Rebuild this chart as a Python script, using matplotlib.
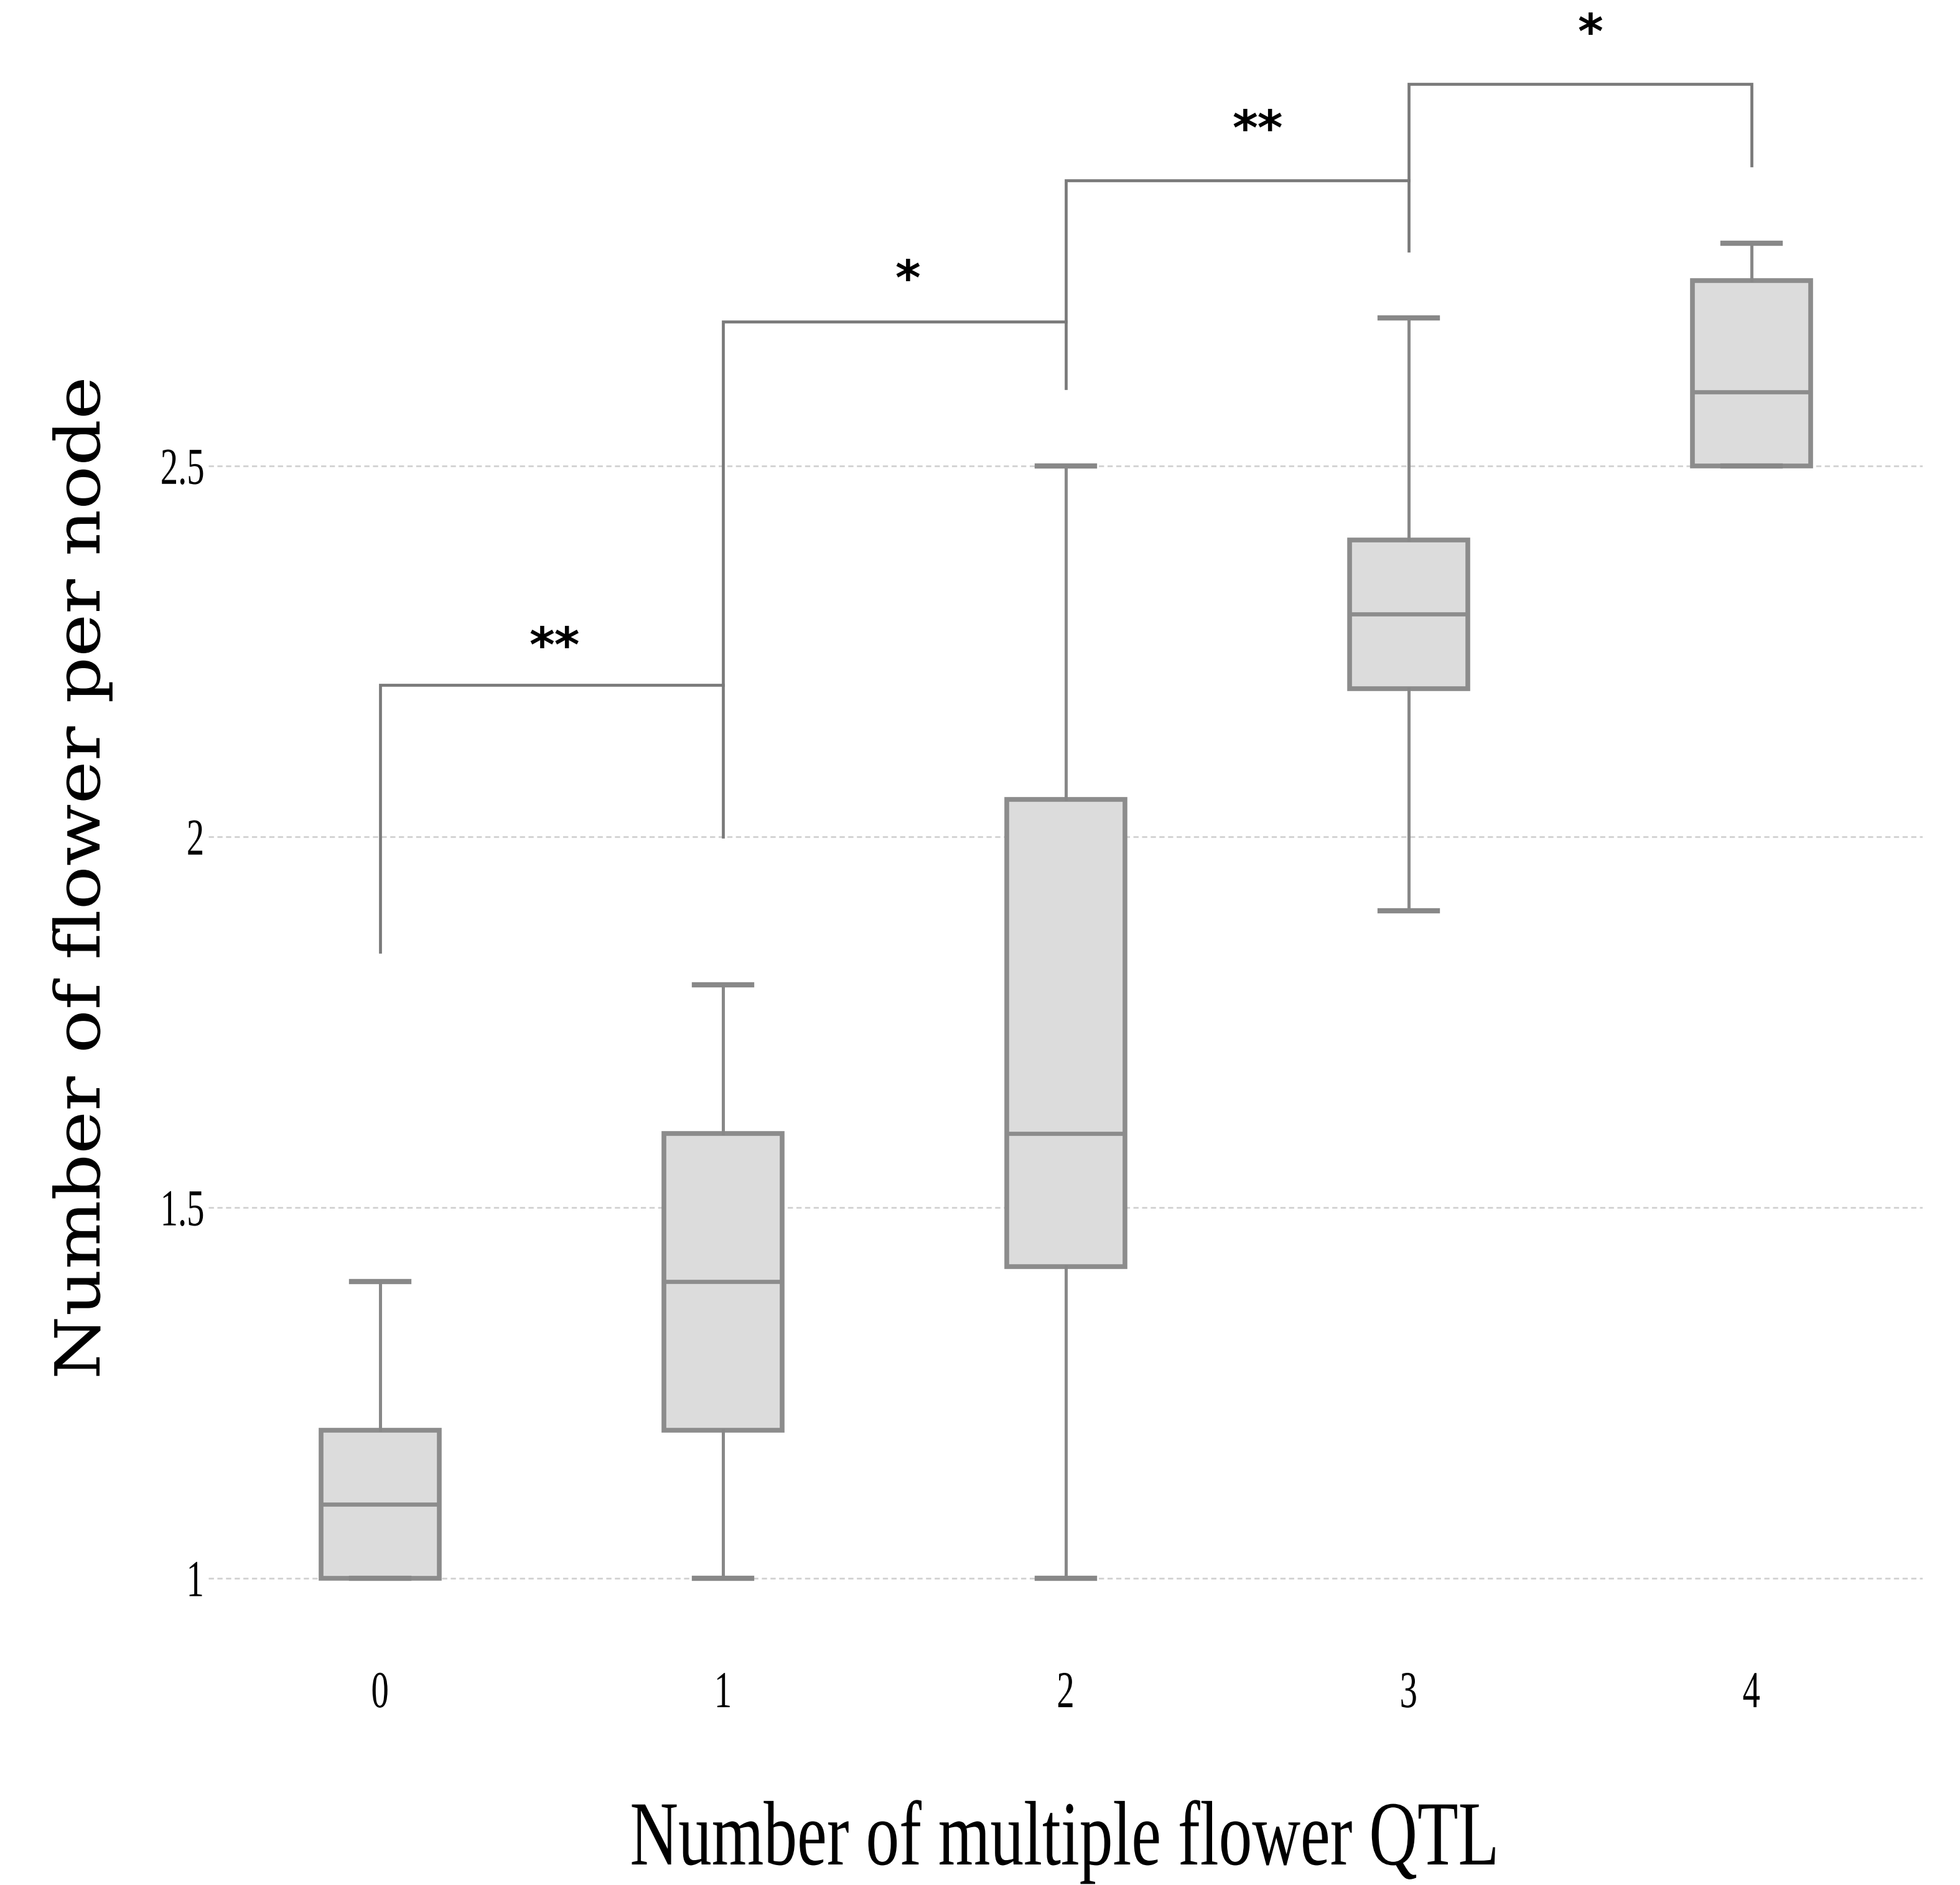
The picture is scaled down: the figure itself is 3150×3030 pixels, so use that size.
import matplotlib
matplotlib.use("Agg")
import matplotlib.pyplot as plt
from matplotlib.patheffects import AbstractPathEffect
from matplotlib.transforms import Affine2D

# Box summary values per number of QTL
groups = ["0", "1", "2", "3", "4"]
whis_low = [1.0, 1.0, 1.0, 1.9, 2.5]
q1 = [1.0, 1.2, 1.42, 2.2, 2.5]
medians = [1.1, 1.4, 1.6, 2.3, 2.6]
q3 = [1.2, 1.6, 2.05, 2.4, 2.75]
whis_high = [1.4, 1.8, 2.5, 2.7, 2.8]

# Significance brackets between neighbouring groups
pair_left = [0, 1, 2, 3]
pair_right = [1, 2, 3, 4]
leg_left = [1.845, 2.205, 2.695, 2.885]
bar_top = [2.205, 2.695, 2.885, 3.015]
leg_right = [2.0, 2.605, 2.79, 2.905]
sig_labels = ["**", "*", "**", "*"]
sig_x = [0.51, 1.54, 2.56, 3.53]
sig_y = [2.273, 2.768, 2.97, 3.10]

y_ticks = [1, 1.5, 2, 2.5]
y_ticklabels = ["1", "1.5", "2", "2.5"]


class Squeeze(AbstractPathEffect):
    """Stretch text glyphs along the writing direction."""

    def __init__(self, sx, anchor="center"):
        super().__init__()
        self.sx = sx
        self.anchor = anchor

    def draw_path(self, renderer, gc, tpath, affine, rgbFace=None):
        ext = tpath.get_extents()
        if self.anchor == "right":
            x0 = ext.x1
        elif self.anchor == "left":
            x0 = ext.x0
        else:
            x0 = (ext.x0 + ext.x1) / 2
        squeeze = Affine2D().translate(-x0, 0).scale(self.sx, 1).translate(x0, 0)
        renderer.draw_path(gc, tpath, squeeze + affine, rgbFace)


fig = plt.figure(figsize=(31.5, 30.3), dpi=100)
ax = fig.add_axes([0.1064, 0.1234, 0.8746, 0.8733])

stats = []
for i, g in enumerate(groups):
    stats.append({"label": g, "whislo": whis_low[i], "q1": q1[i], "med": medians[i],
                  "q3": q3[i], "whishi": whis_high[i], "fliers": []})

ax.bxp(stats, positions=range(len(groups)), widths=0.345, capwidths=0.167,
       patch_artist=True, showfliers=False,
       boxprops=dict(facecolor="#dcdcdc", edgecolor="#8c8c8c", linewidth=5.5),
       whiskerprops=dict(color="#888888", linewidth=3.6),
       capprops=dict(color="#888888", linewidth=6),
       medianprops=dict(color="#8c8c8c", linewidth=4.8))

# brackets + stars
for i in range(len(pair_left)):
    xl, xr = pair_left[i], pair_right[i]
    ax.plot([xl, xl, xr, xr], [leg_left[i], bar_top[i], bar_top[i], leg_right[i]],
            color="#7a7a7a", linewidth=3.4, solid_joinstyle="miter", zorder=3)
    ax.annotate(sig_labels[i], (sig_x[i], sig_y[i]), xytext=(0, -0.565 * 56),
                textcoords="offset points", ha="center", va="baseline",
                fontsize=56, fontweight="bold", family="DejaVu Sans", color="black")

ax.set_xlim(-0.5, 4.5)
ax.set_ylim(0.9, 3.12)
ax.set_xticks(range(len(groups)))
ax.set_xticklabels(groups)
ax.set_yticks(y_ticks)
ax.set_yticklabels(y_ticklabels)

ax.yaxis.grid(True, color="#d2d2d2", linewidth=2, linestyle=(0, (3, 2)))
ax.set_axisbelow(True)
for s in ax.spines.values():
    s.set_visible(False)

ax.tick_params(axis="x", length=0, pad=22)
ax.tick_params(axis="y", length=0, pad=4)
for lab in ax.get_xticklabels():
    lab.set_fontfamily("Liberation Serif")
    lab.set_fontsize(60)
    lab.set_path_effects([Squeeze(0.68)])
for lab in ax.get_yticklabels():
    lab.set_fontfamily("Liberation Serif")
    lab.set_fontsize(60)
    lab.set_path_effects([Squeeze(0.68, anchor="right")])

fig.text(160 / 3150, 1 - 1411 / 3030, "Number of flower per node", rotation=90,
         rotation_mode="anchor", ha="center", va="baseline", fontsize=72,
         family="DejaVu Serif", path_effects=[Squeeze(1.166)])
fig.text(1712 / 3150, 33 / 3030, "Number of multiple flower QTL", ha="center",
         va="baseline", fontsize=106, family="Liberation Serif",
         path_effects=[Squeeze(0.73)])

fig.savefig("out.png", dpi=100, facecolor="white")
